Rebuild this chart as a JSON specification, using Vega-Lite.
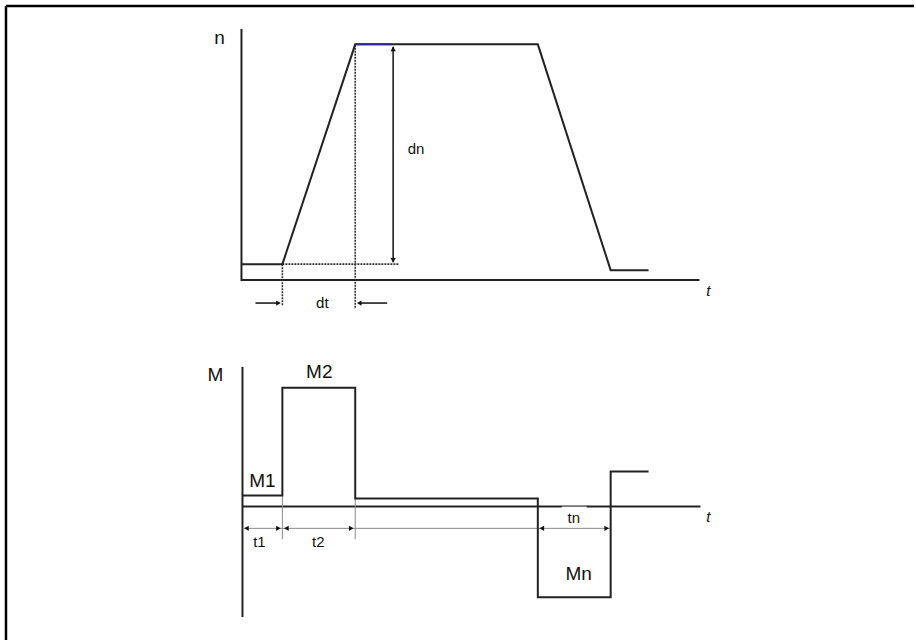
{
  "$schema": "https://vega.github.io/schema/vega-lite/v6.json",
  "width": 916,
  "height": 642,
  "padding": 0,
  "autosize": {"type": "fit", "contains": "padding"},
  "background": "white",
  "config": {"view": {"stroke": null}},
  "encoding": {
    "x": {"type": "quantitative", "scale": {"domain": [0, 916], "nice": false, "zero": false}, "axis": null},
    "y": {"type": "quantitative", "scale": {"domain": [0, 642], "reverse": true, "nice": false, "zero": false}, "axis": null}
  },
  "layer": [
    {
      "data": {"values": [
        {"x": 6, "y": 6, "x2": 6, "y2": 642},
        {"x": 6, "y": 6, "x2": 916, "y2": 6}
      ]},
      "mark": {"type": "rule", "color": "#000", "strokeWidth": 2.5},
      "encoding": {"x": {"field": "x"}, "y": {"field": "y"}, "x2": {"field": "x2"}, "y2": {"field": "y2"}}
    },
    {
      "data": {"values": [
        {"x": 242, "y": 29, "x2": 242, "y2": 282},
        {"x": 242, "y": 281, "x2": 701, "y2": 281},
        {"x": 243, "y": 368, "x2": 243, "y2": 619},
        {"x": 243, "y": 508, "x2": 702, "y2": 508}
      ]},
      "mark": {"type": "rule", "color": "#222", "strokeWidth": 2},
      "encoding": {"x": {"field": "x"}, "y": {"field": "y"}, "x2": {"field": "x2"}, "y2": {"field": "y2"}}
    },
    {
      "data": {"values": [{"x": 563, "y": 508.2, "x2": 588, "y2": 527}]},
      "mark": {"type": "rect", "color": "white"},
      "encoding": {"x": {"field": "x"}, "y": {"field": "y"}, "x2": {"field": "x2"}, "y2": {"field": "y2"}}
    },
    {
      "data": {"values": [
        {"x": 243, "y": 530, "x2": 612, "y2": 530},
        {"x": 283, "y": 497, "x2": 283, "y2": 541},
        {"x": 356, "y": 500, "x2": 356, "y2": 541}
      ]},
      "mark": {"type": "rule", "color": "#8a8a8a", "strokeWidth": 1},
      "encoding": {"x": {"field": "x"}, "y": {"field": "y"}, "x2": {"field": "x2"}, "y2": {"field": "y2"}}
    },
    {
      "data": {"values": [
        {"x": 283, "y": 265, "x2": 400, "y2": 265},
        {"x": 356, "y": 45, "x2": 356, "y2": 310},
        {"x": 283, "y": 265, "x2": 283, "y2": 307}
      ]},
      "mark": {"type": "rule", "color": "#333", "strokeWidth": 1.6, "strokeDash": [2, 1]},
      "encoding": {"x": {"field": "x"}, "y": {"field": "y"}, "x2": {"field": "x2"}, "y2": {"field": "y2"}}
    },
    {
      "data": {"values": [
        {"i": 1, "t": 242, "v": 265},
        {"i": 2, "t": 283, "v": 265},
        {"i": 3, "t": 356, "v": 44.5},
        {"i": 4, "t": 539, "v": 44.5},
        {"i": 5, "t": 612, "v": 271},
        {"i": 6, "t": 650, "v": 271}
      ]},
      "mark": {"type": "line", "color": "#222", "strokeWidth": 2, "strokeJoin": "miter"},
      "encoding": {"x": {"field": "t"}, "y": {"field": "v"}, "order": {"field": "i"}}
    },
    {
      "data": {"values": [{"x": 356, "y": 44.5, "x2": 393, "y2": 44.5}]},
      "mark": {"type": "rule", "color": "#2b2b9a", "strokeWidth": 2},
      "encoding": {"x": {"field": "x"}, "y": {"field": "y"}, "x2": {"field": "x2"}, "y2": {"field": "y2"}}
    },
    {
      "data": {"values": [
        {"i": 1, "t": 243, "v": 497},
        {"i": 2, "t": 283, "v": 497},
        {"i": 3, "t": 283, "v": 389},
        {"i": 4, "t": 356, "v": 389},
        {"i": 5, "t": 356, "v": 500},
        {"i": 6, "t": 539, "v": 500},
        {"i": 7, "t": 539, "v": 599},
        {"i": 8, "t": 612, "v": 599},
        {"i": 9, "t": 612, "v": 473},
        {"i": 10, "t": 650, "v": 473}
      ]},
      "mark": {"type": "line", "color": "#222", "strokeWidth": 2, "strokeJoin": "miter"},
      "encoding": {"x": {"field": "t"}, "y": {"field": "v"}, "order": {"field": "i"}}
    },
    {
      "data": {"values": [
        {"x": 394, "y": 47, "x2": 394, "y2": 263},
        {"x": 256, "y": 304, "x2": 280, "y2": 304},
        {"x": 360, "y": 304, "x2": 388, "y2": 304}
      ]},
      "mark": {"type": "rule", "color": "#111", "strokeWidth": 1.5},
      "encoding": {"x": {"field": "x"}, "y": {"field": "y"}, "x2": {"field": "x2"}, "y2": {"field": "y2"}}
    },
    {
      "data": {"values": [
        {"t": 394, "v": 49, "dir": "up"},
        {"t": 394, "v": 261, "dir": "down"},
        {"t": 279, "v": 304, "dir": "right"},
        {"t": 360, "v": 304, "dir": "left"},
        {"t": 247, "v": 530, "dir": "left"},
        {"t": 279, "v": 530, "dir": "right"},
        {"t": 287, "v": 530, "dir": "left"},
        {"t": 352, "v": 530, "dir": "right"},
        {"t": 543, "v": 530, "dir": "left"},
        {"t": 608, "v": 530, "dir": "right"}
      ]},
      "mark": {"type": "point", "filled": true, "color": "#111", "opacity": 1, "size": 28},
      "encoding": {
        "x": {"field": "t"},
        "y": {"field": "v"},
        "shape": {"field": "dir", "type": "nominal", "legend": null,
          "scale": {"domain": ["up", "down", "left", "right"], "range": ["triangle-up", "triangle-down", "triangle-left", "triangle-right"]}}
      }
    },
    {
      "data": {"values": [
        {"t": 220, "v": 38, "label": "n"},
        {"t": 216, "v": 376, "label": "M"},
        {"t": 263, "v": 483, "label": "M1"},
        {"t": 320, "v": 373, "label": "M2"},
        {"t": 580, "v": 576, "label": "Mn"}
      ]},
      "mark": {"type": "text", "font": "Liberation Sans", "fontSize": 19, "color": "#111", "align": "center", "baseline": "middle"},
      "encoding": {"x": {"field": "t"}, "y": {"field": "v"}, "text": {"field": "label"}}
    },
    {
      "data": {"values": [
        {"t": 417, "v": 149, "label": "dn"},
        {"t": 323, "v": 304, "label": "dt"},
        {"t": 260, "v": 544, "label": "t1"},
        {"t": 319, "v": 544, "label": "t2"},
        {"t": 575, "v": 520, "label": "tn"}
      ]},
      "mark": {"type": "text", "font": "Liberation Sans", "fontSize": 15, "color": "#111", "align": "center", "baseline": "middle"},
      "encoding": {"x": {"field": "t"}, "y": {"field": "v"}, "text": {"field": "label"}}
    },
    {
      "data": {"values": [
        {"t": 710, "v": 292, "label": "t"},
        {"t": 710, "v": 519, "label": "t"}
      ]},
      "mark": {"type": "text", "font": "Liberation Sans", "fontSize": 15, "fontStyle": "italic", "color": "#111", "align": "center", "baseline": "middle"},
      "encoding": {"x": {"field": "t"}, "y": {"field": "v"}, "text": {"field": "label"}}
    }
  ]
}
